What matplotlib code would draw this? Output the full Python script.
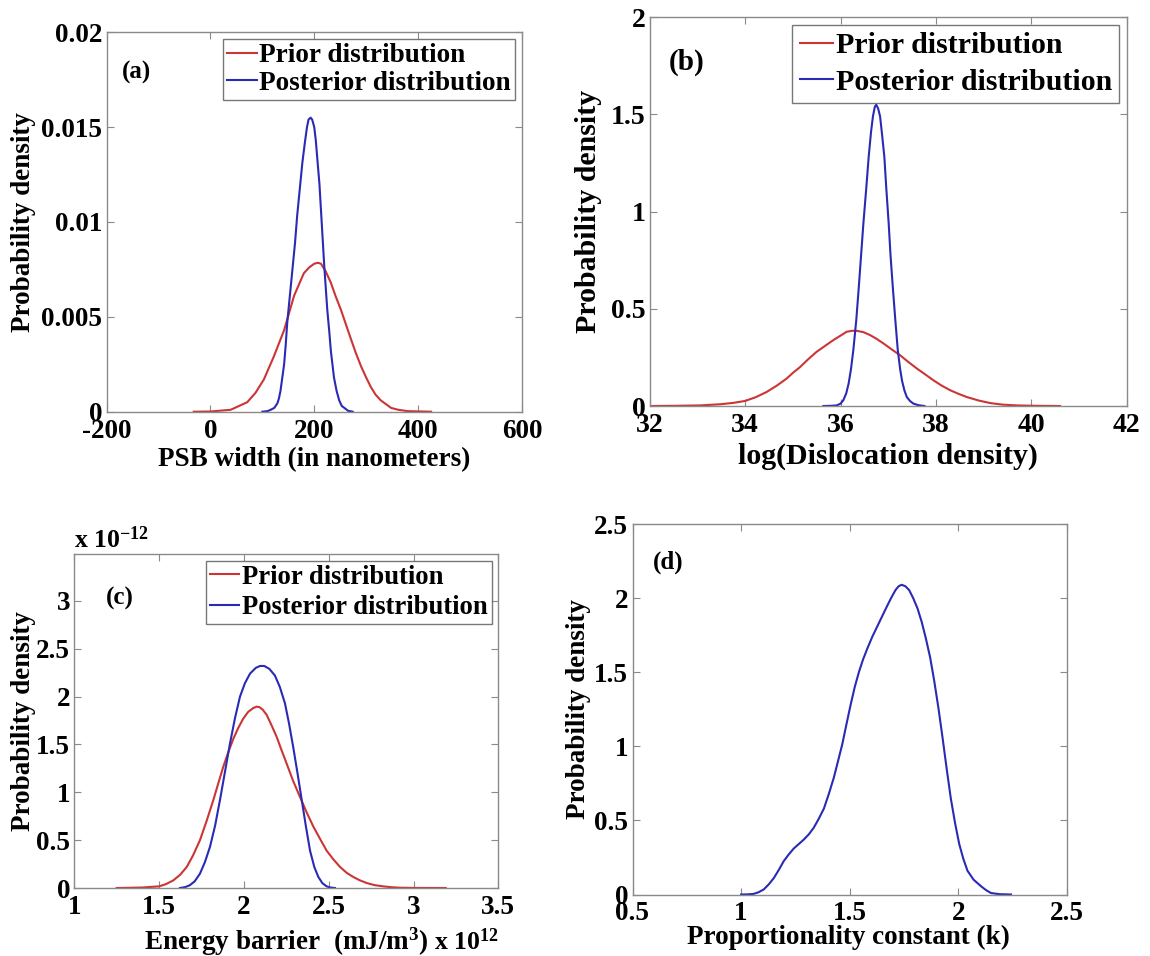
import matplotlib
matplotlib.use("Agg")
import matplotlib.pyplot as plt

plt.rcParams['font.family'] = ['Liberation Serif', 'DejaVu Serif']
plt.rcParams['font.weight'] = 'bold'
plt.rcParams['axes.unicode_minus'] = False
plt.rcParams['mathtext.fontset'] = 'custom'
plt.rcParams['mathtext.rm'] = 'Liberation Serif:bold'
plt.rcParams['mathtext.it'] = 'Liberation Serif:bold'
plt.rcParams['mathtext.bf'] = 'Liberation Serif:bold'

# ---------------- data ----------------
# (a) PSB width
a_prior_x = [-32, 0, 39, 55, 71, 87, 103, 122, 142, 161, 172, 180, 190, 200, 207, 213, 222, 232, 241, 251,
             261, 271, 280, 290, 300, 309, 318, 328, 338, 348, 362, 380, 425]
a_prior_y = [0, 0.00001, 0.0001, 0.0003, 0.0005, 0.001, 0.0017, 0.0029, 0.0043, 0.0061, 0.0068, 0.0073,
             0.0076, 0.0078, 0.00785, 0.0078, 0.0074, 0.0068, 0.0061, 0.0054, 0.0046, 0.0038, 0.0031,
             0.0024, 0.0018, 0.0013, 0.0009, 0.0006, 0.0004, 0.0002, 0.0001, 0.00003, 0]
a_post_x = [100, 110, 116, 123, 129, 132, 135, 138, 142, 145, 148, 153, 158, 163, 167, 172, 177, 182, 186,
            189, 193, 196, 200, 203, 206, 210, 213, 216, 219, 222, 225, 229, 232, 235, 238, 243, 248, 253,
            258, 265, 274]
a_post_y = [0, 0.00003, 0.0001, 0.0002, 0.00044, 0.0007, 0.0011, 0.0017, 0.0025, 0.0035, 0.0047, 0.0061,
            0.0075, 0.0089, 0.0103, 0.0117, 0.0131, 0.0142, 0.0150, 0.0154, 0.0155, 0.0154, 0.0150,
            0.0143, 0.0133, 0.0120, 0.0106, 0.0092, 0.0078, 0.0066, 0.0054, 0.0042, 0.0032, 0.0025,
            0.0018, 0.0011, 0.0006, 0.0003, 0.0002, 0.00005, 0]

# (b) log(Dislocation density)
b_prior_x = [32, 32.5, 33.06, 33.48, 33.75, 34.0, 34.22, 34.45, 34.66, 34.87, 35.0, 35.15, 35.32, 35.50,
             35.68, 35.85, 36.0, 36.13, 36.24, 36.34, 36.48, 36.62, 36.76, 36.90, 37.08, 37.25, 37.42,
             37.60, 37.78, 37.95, 38.12, 38.30, 38.48, 38.65, 38.90, 39.14, 39.40, 39.70, 40.1, 40.6]
b_prior_y = [0, 0.001, 0.003, 0.009, 0.016, 0.026, 0.045, 0.072, 0.104, 0.141, 0.17, 0.20, 0.24, 0.279,
             0.31, 0.339, 0.362, 0.382, 0.387, 0.387, 0.38, 0.365, 0.345, 0.322, 0.29, 0.261, 0.227,
             0.193, 0.162, 0.132, 0.105, 0.081, 0.062, 0.046, 0.028, 0.015, 0.007, 0.003, 0.001, 0]
b_post_x = [35.64, 35.80, 35.92, 36.0, 36.06, 36.12, 36.17, 36.22, 36.27, 36.33, 36.38, 36.43, 36.48, 36.54,
            36.59, 36.64, 36.68, 36.72, 36.75, 36.79, 36.83, 36.87, 36.92, 36.96, 37.01, 37.05, 37.10,
            37.15, 37.20, 37.25, 37.29, 37.34, 37.39, 37.46, 37.53, 37.64, 37.76]
b_post_y = [0, 0.001, 0.003, 0.012, 0.03, 0.065, 0.115, 0.19, 0.29, 0.44, 0.60, 0.77, 0.94, 1.12,
            1.28, 1.41, 1.49, 1.54, 1.55, 1.53, 1.49, 1.40, 1.28, 1.12, 0.94, 0.77, 0.60,
            0.44, 0.29, 0.19, 0.13, 0.08, 0.046, 0.025, 0.012, 0.004, 0]

# (c) Energy barrier (x 1e12), density (x 1e-12)
c_prior_x = [1.25, 1.40, 1.50, 1.54, 1.584, 1.625, 1.663, 1.70, 1.741, 1.78, 1.820, 1.85, 1.879, 1.91,
             1.938, 1.966, 1.996, 2.025, 2.055, 2.075, 2.091, 2.11, 2.134, 2.163, 2.193, 2.222, 2.252,
             2.29, 2.331, 2.37, 2.410, 2.45, 2.488, 2.527, 2.567, 2.605, 2.645, 2.684, 2.724, 2.77,
             2.822, 2.87, 2.920, 3.0, 3.19]
c_prior_y = [0, 0.005, 0.017, 0.04, 0.08, 0.14, 0.22, 0.34, 0.50, 0.70, 0.92, 1.10, 1.27, 1.43,
             1.56, 1.67, 1.77, 1.84, 1.88, 1.895, 1.89, 1.865, 1.81, 1.70, 1.58, 1.44, 1.30,
             1.12, 0.95, 0.79, 0.64, 0.51, 0.39, 0.30, 0.22, 0.16, 0.115, 0.08, 0.052, 0.03,
             0.017, 0.008, 0.003, 0.001, 0]
c_post_x = [1.623, 1.655, 1.682, 1.71, 1.741, 1.77, 1.800, 1.83, 1.859, 1.888, 1.918, 1.948, 1.977, 2.006,
            2.036, 2.07, 2.095, 2.12, 2.15, 2.183, 2.212, 2.242, 2.266, 2.291, 2.316, 2.341, 2.366,
            2.390, 2.415, 2.439, 2.463, 2.488, 2.51, 2.537]
c_post_y = [0, 0.01, 0.03, 0.07, 0.15, 0.27, 0.43, 0.65, 0.92, 1.21, 1.51, 1.78, 2.0, 2.14,
            2.24, 2.30, 2.32, 2.32, 2.29, 2.22, 2.10, 1.93, 1.72, 1.47, 1.20, 0.92, 0.64,
            0.39, 0.22, 0.115, 0.05, 0.017, 0.005, 0]

# (d) Proportionality constant (k)
d_post_x = [1.0, 1.03, 1.057, 1.08, 1.104, 1.127, 1.150, 1.173, 1.196, 1.219, 1.242, 1.265, 1.288, 1.311,
            1.334, 1.357, 1.381, 1.404, 1.427, 1.446, 1.465, 1.485, 1.504, 1.523, 1.542, 1.561, 1.581,
            1.604, 1.627, 1.65, 1.673, 1.692, 1.711, 1.725, 1.739, 1.756, 1.773, 1.792, 1.812, 1.831,
            1.850, 1.870, 1.889, 1.908, 1.927, 1.946, 1.965, 1.985, 2.004, 2.023, 2.042, 2.07, 2.104,
            2.127, 2.15, 2.19, 2.242]
d_post_y = [0, 0.001, 0.004, 0.015, 0.034, 0.068, 0.11, 0.165, 0.225, 0.27, 0.31, 0.34, 0.37, 0.405,
            0.45, 0.51, 0.58, 0.68, 0.79, 0.90, 1.01, 1.15, 1.28, 1.40, 1.50, 1.585, 1.66,
            1.74, 1.81, 1.88, 1.95, 2.005, 2.055, 2.08, 2.09, 2.08, 2.055, 2.0, 1.93, 1.84,
            1.73, 1.60, 1.44, 1.26, 1.06, 0.85, 0.65, 0.48, 0.34, 0.24, 0.16, 0.10, 0.056,
            0.03, 0.01, 0.002, 0]

legend_labels = ['Prior distribution', 'Posterior distribution']

RED = '#cc3535'
BLUE = '#2a2ab4'
FRAME = '#8a8a8a'

W, H = 1150, 956
fig = plt.figure(figsize=(W / 100, H / 100), dpi=100)


def add_ax(left, top, right, bottom):
    return fig.add_axes([left / W, 1 - bottom / H, (right - left) / W, (bottom - top) / H])


def style(ax, fs=19.5):
    for s in ax.spines.values():
        s.set_color(FRAME)
        s.set_linewidth(1.0)
    ax.tick_params(direction='in', top=True, right=True, length=5, width=0.8, color=FRAME,
                   labelsize=fs)
    ax.tick_params(axis='x', pad=5)
    ax.tick_params(axis='y', pad=3)
    for lab in ax.get_xticklabels() + ax.get_yticklabels():
        lab.set_fontweight('bold')


def legend(ax, fs, spacing, bpad=0.15):
    leg = ax.legend(legend_labels, loc='upper right', fontsize=fs, handlelength=1.1, handletextpad=0.1,
                    borderpad=bpad, labelspacing=spacing, borderaxespad=0.25, fancybox=False,
                    frameon=True)
    leg.get_frame().set_edgecolor('#555555')
    leg.get_frame().set_linewidth(1.0)
    for t in leg.get_texts():
        t.set_fontweight('bold')


# ---- (a)
ax = add_ax(106.5, 32.3, 522, 411.7)
ax.plot(a_prior_x, a_prior_y, color=RED, lw=1.5)
ax.plot(a_post_x, a_post_y, color=BLUE, lw=1.5)
ax.set_xlim(-200, 600)
ax.set_ylim(0, 0.02)
ax.set_xticks([-200, 0, 200, 400, 600])
ax.set_yticks([0, 0.005, 0.01, 0.015, 0.02])
ax.set_yticklabels(['0', '0.005', '0.01', '0.015', '0.02'])
style(ax)
legend(ax, 19.6, 0.1)
ax.text(-142, 0.0179, '(a)', fontsize=18, fontweight='bold', ha='center', va='center')
ax.set_xlabel('PSB width (in nanometers)', fontsize=19.5, fontweight='bold')
ax.xaxis.set_label_coords(0.5, -0.093)
ax.set_ylabel('Probability density', fontsize=19.5, fontweight='bold')
ax.yaxis.set_label_coords(-0.170, 0.5)

# ---- (b)
ax = add_ax(649.7, 17.3, 1126.7, 406)
ax.plot(b_prior_x, b_prior_y, color=RED, lw=1.5)
ax.plot(b_post_x, b_post_y, color=BLUE, lw=1.5)
ax.set_xlim(32, 42)
ax.set_ylim(0, 2)
ax.set_xticks([32, 34, 36, 38, 40, 42])
ax.set_yticks([0, 0.5, 1, 1.5, 2])
ax.set_yticklabels(['0', '0.5', '1', '1.5', '2'])
style(ax, 20)
legend(ax, 21.5, 0.32, 0.25)
ax.text(32.78, 1.77, '(b)', fontsize=21, fontweight='bold', ha='center', va='center')
ax.set_xlabel('log(Dislocation density)', fontsize=21.5, fontweight='bold')
ax.xaxis.set_label_coords(0.5, -0.095)
ax.set_ylabel('Probability density', fontsize=21.5, fontweight='bold')
ax.yaxis.set_label_coords(-0.100, 0.5)

# ---- (c)
ax = add_ax(74.3, 554, 498.3, 888)
ax.plot(c_prior_x, c_prior_y, color=RED, lw=1.5)
ax.plot(c_post_x, c_post_y, color=BLUE, lw=1.5)
ax.set_xlim(1, 3.5)
ax.set_ylim(0, 3.49)
ax.set_xticks([1, 1.5, 2, 2.5, 3, 3.5])
ax.set_xticklabels(['1', '1.5', '2', '2.5', '3', '3.5'])
ax.set_yticks([0, 0.5, 1, 1.5, 2, 2.5, 3])
ax.set_yticklabels(['0', '0.5', '1', '1.5', '2', '2.5', '3'])
style(ax)
legend(ax, 19.2, 0.2)
ax.text(1.27, 3.03, '(c)', fontsize=18, fontweight='bold', ha='center', va='center')
ax.set_xlabel('Energy barrier  (mJ/m$^3$)', fontsize=19.5, fontweight='bold')
ax.xaxis.set_label_coords(0.5, -0.111)
ax.set_ylabel('Probability density', fontsize=19.5, fontweight='bold')
ax.yaxis.set_label_coords(-0.090, 0.5)
ax.text(0.0, 1.018, 'x 10$^{-12}$', transform=ax.transAxes, fontsize=18.5, fontweight='bold',
        ha='left', va='baseline')
ax.text(1.0, -0.186, 'x 10$^{12}$', transform=ax.transAxes, fontsize=18.5, fontweight='bold',
        ha='right', va='baseline')

# ---- (d)
ax = add_ax(632.5, 524, 1067, 894.5)
ax.plot(d_post_x, d_post_y, color=BLUE, lw=1.5)
ax.set_xlim(0.5, 2.5)
ax.set_ylim(0, 2.5)
ax.set_xticks([0.5, 1, 1.5, 2, 2.5])
ax.set_xticklabels(['0.5', '1', '1.5', '2', '2.5'])
ax.set_yticks([0, 0.5, 1, 1.5, 2, 2.5])
ax.set_yticklabels(['0', '0.5', '1', '1.5', '2', '2.5'])
style(ax)
ax.text(0.664, 2.24, '(d)', fontsize=18, fontweight='bold', ha='center', va='center')
ax.set_xlabel('Proportionality constant (k)', fontsize=19.5, fontweight='bold')
ax.xaxis.set_label_coords(0.496, -0.082)
ax.set_ylabel('Probability density', fontsize=19.5, fontweight='bold')
ax.yaxis.set_label_coords(-0.096, 0.5)

fig.savefig('out.png', dpi=100, facecolor='white')
